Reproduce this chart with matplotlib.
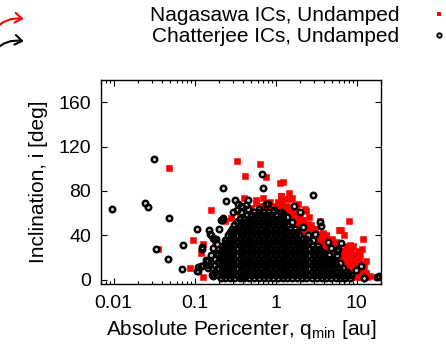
import matplotlib
matplotlib.use('Agg')
import matplotlib.pyplot as plt
from matplotlib.lines import Line2D
from matplotlib.patches import FancyArrowPatch

plt.rcParams['font.family'] = ['Liberation Sans', 'DejaVu Sans']
plt.rcParams['mathtext.fontset'] = 'custom'
plt.rcParams['mathtext.rm'] = 'Liberation Sans'
plt.rcParams['mathtext.it'] = 'Liberation Sans:italic'

# ---------------- data ----------------
xticks = [0.01, 0.1, 1, 10]
xtick_labels = ['0.01', '0.1', '1', '10']
yticks = [0, 40, 80, 120, 160]
label_nag = 'Nagasawa ICs, Undamped'
label_chat = 'Chatterjee ICs, Undamped'

# Nagasawa ICs: isolated / edge points (q_min [au], i [deg])
nag_outer = [(0.0477, 100.4), (0.33, 107.3), (0.647, 104), (0.418, 93.4), (0.76, 92.5),
             (1.12, 87.1), (1.22, 87.7), (0.035, 27.7), (0.096, 35.6), (0.087, 10),
             (0.128, 2.7), (0.158, 62.4), (0.406, 73.5), (1.15, 75.7), (1.58, 73.5),
             (2.28, 63.9), (3.49, 52.7), (8.03, 52.4), (6.0, 44.6), (6.4, 44.6),
             (11.97, 36.8), (11.8, 27.7), (12.9, 16.6), (8.4, 31.6), (9.0, 30),
             (2.76, 49.1), (0.226, 6.6), (0.127, 31.9), (0.12, 24), (0.577, 69),
             (0.635, 66.3), (1.18, 75.3), (1.29, 72.3), (1.36, 64.8), (0.36, 58.8),
             (0.284, 55.8), (0.327, 52.7), (0.235, 52.7), (0.297, 27), (0.34, 39),
             (0.377, 36), (0.93, 60.3), (1.02, 61.8), (1.18, 60.3), (1.49, 57.2),
             (1.41, 52.7), (1.23, 51.3), (17.7, 2.7), (0.177, 31.6), (0.255, 33),
             (0.28, 30), (0.33, 40.7), (0.34, 61.8), (0.58, 72), (0.235, 7.5),
             (1.07, 69), (1.56, 73), (1.8, 63), (2.4, 62), (6.15, 45), (12.5, 12),
             (12.9, 6), (14.5, 3), (0.5, 65), (0.72, 66), (0.88, 64), (0.45, 58),
             (2.0, 58), (2.6, 56), (3.1, 46), (4.2, 40), (5.0, 37), (7.0, 40),
             (9.5, 20), (11.0, 22), (10.5, 26), (1.7, 60), (2.2, 54), (1.9, 68),
             (2.9, 43), (3.6, 38), (4.6, 33), (5.6, 30), (3.3, 41), (4.0, 35),
             (0.85, 70), (0.7, 74), (1.45, 78), (2.5, 45), (5.2, 26), (6.8, 24)]

# Nagasawa ICs: dense cloud, one row per inclination level
nag_rows = [
    (2,  [7.7, 8.6, 9.7, 10.8, 12.1, 13.5]),
    (6,  [7.3, 8.15, 9.15, 10.2, 11.4, 12.8]),
    (10, [6.2, 6.9, 7.7, 8.6, 9.7, 10.8, 12.1]),
    (14, [5.85, 6.55, 7.3, 8.15, 9.15, 10.2, 11.4]),
    (18, [4.9, 5.5, 6.2, 6.9, 7.7, 8.6, 9.7, 10.8]),
    (22, [4.65, 5.2, 5.85, 6.55, 7.3, 8.15, 9.15]),
    (26, [3.9, 4.4, 4.9, 5.5, 6.2, 6.9, 7.7, 8.6]),
    (30, [3.3, 3.7, 4.15, 4.65, 5.2, 5.85, 7.3]),
    (34, [2.8, 3.1, 3.5, 3.9, 4.4, 5.5]),
    (38, [2.35, 2.65, 2.95, 3.3, 3.7, 4.15]),
    (42, [2.2, 2.5, 2.8, 3.1, 3.9]),
    (46, [1.66, 1.86, 2.08, 2.35, 2.65, 2.95]),
    (50, [1.4, 1.57, 1.76, 1.97, 2.2, 2.5]),
    (54, [1.18, 1.32, 1.48, 1.66, 1.86, 2.08]),
    (58, [1.12, 1.25, 1.4, 1.57, 1.97]),
    (62, [1.06, 1.18, 1.32, 1.48, 1.66]),
    (66, [1.0, 1.12, 1.25, 1.4]),
    (70, [1.06, 1.18]),
]

# Chatterjee ICs: isolated / edge points (q_min [au], i [deg])
chat_outer = [(0.0095, 63.6), (0.032, 108.8), (0.0244, 69), (0.0266, 65.4), (0.0488, 55.4),
              (0.0336, 27.4), (0.0474, 18.7), (0.0725, 31), (0.0706, 9.3), (0.108, 45.5),
              (0.111, 8.1), (0.152, 44.6), (0.161, 40), (0.148, 16.6), (0.167, 3.6),
              (0.226, 82.6), (0.246, 70.8), (0.315, 71.7), (0.215, 54), (0.671, 95.6),
              (0.69, 82.3), (2.86, 76.2), (1.70, 66.6), (1.99, 61.2), (3.49, 52.2),
              (3.59, 47.9), (3.06, 40.7), (4.47, 34.1), (6.41, 33.2), (5.8, 22.6),
              (5.75, 25.5), (9.9, 8.4), (12.2, 1.2), (17.8, 2.7), (19.0, 3.2),
              (6.9, 1.8), (6.9, 4.5), (0.455, 71.7), (0.37, 66.3), (0.33, 62.7),
              (0.80, 68.1), (0.38, 2), (0.30, 60.6), (0.377, 61.2), (0.39, 65.7),
              (0.213, 53.6), (0.173, 36.2), (0.19, 32.5), (0.235, 35.5), (0.123, 28),
              (0.158, 22.6), (0.14, 18), (0.124, 12), (0.11, 11.5), (0.146, 10.6),
              (0.165, 3.9), (0.224, 18), (0.246, 21), (0.27, 27), (0.284, 42.2),
              (0.327, 43.7), (1.23, 58.8), (2.21, 47.6), (4.8, 28.7), (5.86, 27.7),
              (6.15, 15.1), (3.84, 18), (11.4, 12), (12.5, 1.5), (0.34, 67.8),
              (0.43, 67), (0.455, 63.3), (0.77, 67.8), (0.224, 55.8), (0.2, 46),
              (0.153, 40.7), (0.169, 37.7), (0.185, 36.2), (0.246, 35.5), (0.124, 29.2),
              (0.169, 28.6), (0.149, 13.5), (0.121, 12), (0.108, 7.5), (0.169, 5.1),
              (0.235, 7.5), (1.4, 56), (1.6, 52), (2.5, 40), (2.9, 36), (3.3, 30),
              (4.0, 24), (5.2, 18), (6.0, 10), (7.6, 7), (8.6, 4), (0.62, 64),
              (0.95, 63), (1.15, 61), (0.26, 40), (0.22, 30), (0.19, 24)]

# Chatterjee ICs: dense core, one row per inclination level
chat_rows = [
    (1,  [0.21, 0.24, 0.27, 0.31, 0.36, 0.41, 0.47, 0.54, 0.62, 0.71, 0.81, 0.93, 1.07, 1.22,
          1.4, 1.6, 1.85, 2.1, 2.4, 2.8, 3.2, 3.7, 4.2, 4.8, 5.5, 6.3, 7.2, 8.3]),
    (4,  [0.195, 0.225, 0.255, 0.29, 0.335, 0.385, 0.44, 0.5, 0.58, 0.66, 0.76, 0.87, 1.0,
          1.15, 1.3, 1.5, 1.72, 1.97, 2.25, 2.6, 3.0, 3.45, 3.95, 4.5, 5.15, 5.9, 6.75, 7.75]),
    (7,  [0.18, 0.21, 0.24, 0.27, 0.31, 0.36, 0.41, 0.47, 0.54, 0.62, 0.71, 0.81, 0.93, 1.07,
          1.22, 1.4, 1.6, 1.85, 2.1, 2.4, 2.8, 3.2, 3.7, 4.2, 4.8, 5.5, 6.3, 7.2]),
    (10, [0.195, 0.225, 0.255, 0.29, 0.335, 0.385, 0.44, 0.5, 0.58, 0.66, 0.76, 0.87, 1.0,
          1.15, 1.3, 1.5, 1.72, 1.97, 2.25, 2.6, 3.0, 3.45, 3.95, 4.5, 5.15, 5.9, 6.75]),
    (13, [0.18, 0.21, 0.24, 0.27, 0.31, 0.36, 0.41, 0.47, 0.54, 0.62, 0.71, 0.81, 0.93, 1.07,
          1.22, 1.4, 1.6, 1.85, 2.1, 2.4, 2.8, 3.2, 3.7, 4.2, 4.8, 5.5]),
    (16, [0.195, 0.225, 0.255, 0.29, 0.335, 0.385, 0.44, 0.5, 0.58, 0.66, 0.76, 0.87, 1.0,
          1.15, 1.3, 1.5, 1.72, 1.97, 2.25, 2.6, 3.0, 3.45, 3.95, 4.5, 5.15]),
    (19, [0.18, 0.21, 0.24, 0.27, 0.31, 0.36, 0.41, 0.47, 0.54, 0.62, 0.71, 0.81, 0.93, 1.07,
          1.22, 1.4, 1.6, 1.85, 2.1, 2.4, 2.8, 3.2, 3.7, 4.2, 4.8]),
    (22, [0.195, 0.225, 0.255, 0.29, 0.335, 0.385, 0.44, 0.5, 0.58, 0.66, 0.76, 0.87, 1.0,
          1.15, 1.3, 1.5, 1.72, 1.97, 2.25, 2.6, 3.0, 3.45, 3.95, 4.5]),
    (25, [0.21, 0.24, 0.27, 0.31, 0.36, 0.41, 0.47, 0.54, 0.62, 0.71, 0.81, 0.93, 1.07,
          1.22, 1.4, 1.6, 1.85, 2.1, 2.4, 2.8, 3.2, 3.7]),
    (28, [0.225, 0.255, 0.29, 0.335, 0.385, 0.44, 0.5, 0.58, 0.66, 0.76, 0.87, 1.0,
          1.15, 1.3, 1.5, 1.72, 1.97, 2.25, 2.6, 3.0, 3.45]),
    (31, [0.24, 0.27, 0.31, 0.36, 0.41, 0.47, 0.54, 0.62, 0.71, 0.81, 0.93, 1.07,
          1.22, 1.4, 1.6, 1.85, 2.1, 2.4, 2.8]),
    (34, [0.255, 0.29, 0.335, 0.385, 0.44, 0.5, 0.58, 0.66, 0.76, 0.87, 1.0,
          1.15, 1.3, 1.5, 1.72, 1.97, 2.25, 2.6]),
    (37, [0.27, 0.31, 0.36, 0.41, 0.47, 0.54, 0.62, 0.71, 0.81, 0.93, 1.07,
          1.22, 1.4, 1.6, 1.85, 2.1, 2.4]),
    (40, [0.29, 0.335, 0.385, 0.44, 0.5, 0.58, 0.66, 0.76, 0.87, 1.0,
          1.15, 1.3, 1.5, 1.72, 1.97]),
    (43, [0.27, 0.31, 0.36, 0.41, 0.47, 0.54, 0.62, 0.71, 0.81, 0.93, 1.07,
          1.22, 1.4, 1.6, 1.85]),
    (46, [0.29, 0.335, 0.385, 0.44, 0.5, 0.58, 0.66, 0.76, 0.87, 1.0,
          1.15, 1.3, 1.5, 1.72]),
    (49, [0.31, 0.36, 0.41, 0.47, 0.54, 0.62, 0.71, 0.81, 0.93, 1.07, 1.22, 1.4]),
    (52, [0.335, 0.385, 0.44, 0.5, 0.58, 0.66, 0.76, 0.87, 1.0, 1.15, 1.3]),
    (55, [0.36, 0.41, 0.47, 0.54, 0.62, 0.71, 0.81, 0.93, 1.07, 1.22]),
    (58, [0.44, 0.5, 0.58, 0.66, 0.76, 0.87, 1.0, 1.15]),
    (61, [0.54, 0.62, 0.71, 0.81, 0.93]),
]

# ---------------- assemble ----------------
nag_q = [p[0] for p in nag_outer]
nag_i = [p[1] for p in nag_outer]
for lev, qs in nag_rows:
    nag_q += qs
    nag_i += [lev] * len(qs)

chat_q = []
chat_i = []
for lev, qs in chat_rows:
    chat_q += qs
    chat_i += [lev] * len(qs)
chat_q += [p[0] for p in chat_outer]
chat_i += [p[1] for p in chat_outer]

# ---------------- figure ----------------
W, H = 446, 347
fig = plt.figure(figsize=(W / 100, H / 100), dpi=100)
ax = fig.add_axes([101 / W, 1 - 284 / H, 280 / W, 204 / H])

ax.plot(nag_q, nag_i, marker='s', ms=3.7, mew=0.4, color='#ff0000', mec='#ff0000', ls='none')
# light centre of each circle, then the black rings on top of all centres
ax.plot(chat_q, chat_i, marker='o', ms=3.0, mew=0, mfc='#c8c8c8', ls='none')
ax.plot(chat_q, chat_i, marker='o', ms=4.0, mew=1.7, mec='black', mfc='none', ls='none')

ax.set_xscale('log')
ax.set_xlim(0.007, 20)
ax.set_ylim(-4, 180)
ax.set_xticks(xticks)
ax.set_xticklabels(xtick_labels)
ax.set_yticks(yticks)
ax.tick_params(which='both', direction='in', top=True, right=True, width=0.8)
ax.tick_params(which='major', length=4)
ax.tick_params(which='minor', length=2.2)
ax.tick_params(axis='x', which='major', labelsize=14, pad=8)
ax.tick_params(axis='y', which='major', labelsize=14, pad=7)
ax.minorticks_on()
ax.yaxis.set_minor_locator(matplotlib.ticker.NullLocator())
for s in ax.spines.values():
    s.set_linewidth(1.0)

ax.set_xlabel(r'Absolute Pericenter, q$_{\rm min}$ [au]', fontsize=15, labelpad=4)
ax.set_ylabel('Inclination, i [deg]', fontsize=15, labelpad=8)

# key (top right)
fig.text(399 / W, 1 - 20.7 / H, label_nag, ha='right', va='baseline', fontsize=15)
fig.text(399 / W, 1 - 41.7 / H, label_chat, ha='right', va='baseline', fontsize=15)
fig.add_artist(Line2D([439 / W], [1 - 14 / H], transform=fig.transFigure,
                      marker='s', ms=3.0, mew=0, color='#ff0000', ls='none'))
fig.add_artist(Line2D([439 / W], [1 - 34.5 / H], transform=fig.transFigure,
                      marker='o', ms=3.2, mew=1.3, mec='black', mfc='#c8c8c8', ls='none'))

# partial arrows at the left edge
for (x0, y0, x1, y1, col) in [(-8, 32, 26.5, 19.3, '#ff0000'), (-8, 53, 26.5, 41.8, 'black')]:
    arr = FancyArrowPatch((x0, H - y0), (x1, H - y1), transform=None,
                          connectionstyle='arc3,rad=-0.3',
                          arrowstyle='->,head_length=5,head_width=3.5',
                          color=col, lw=1.5, mutation_scale=1)
    fig.add_artist(arr)

fig.savefig('out.png', dpi=100)
